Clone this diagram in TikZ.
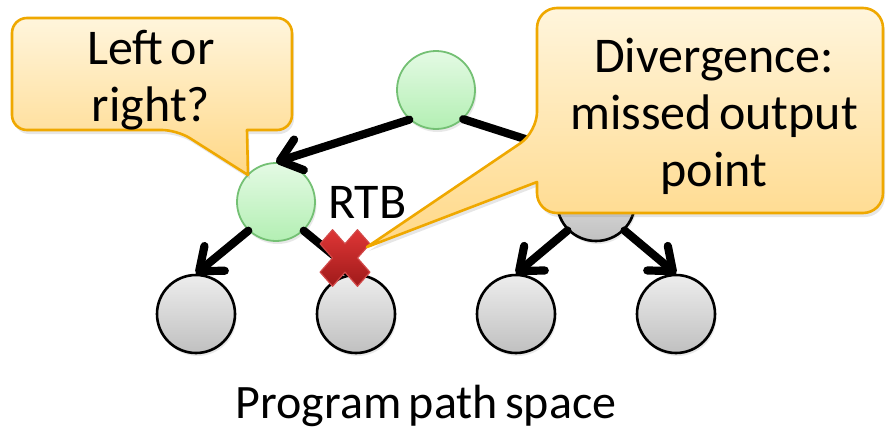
\documentclass[tikz,border=0pt]{standalone}
\usepackage{fontspec}
\setmainfont{Carlito}
\usetikzlibrary{arrows.meta,positioning,shadows}
\definecolor{ink}{HTML}{000000}
\definecolor{calloutedge}{HTML}{EFA800}
\definecolor{callouttop}{HTML}{FFF5DC}
\definecolor{calloutbot}{HTML}{FFD887}
\definecolor{takenedge}{HTML}{74C074}
\definecolor{takentop}{HTML}{E4FAE4}
\definecolor{takenbot}{HTML}{B3EFB3}
\definecolor{pathtop}{HTML}{EDEDED}
\definecolor{pathbot}{HTML}{C0C0C0}
\definecolor{marktop}{HTML}{DE3636}
\definecolor{markbot}{HTML}{A01A1A}
\definecolor{markedge}{HTML}{D24848}
\newcommand\slidefont[1]{\fontsize{#1}{57}\selectfont\spaceskip=0.15em\relax}

\tikzset{
  pathnode/.style={circle, minimum size=78pt, inner sep=0pt, line width=2.6pt,
    draw=black, top color=pathtop, bottom color=pathbot,
    drop shadow={shadow xshift=1.5pt, shadow yshift=-3pt, opacity=0.18}},
  takennode/.style={pathnode, draw=takenedge, line width=1.8pt,
    top color=takentop, bottom color=takenbot},
  branch/.style={line width=8.2pt, line cap=round,
    -{Straight Barb[length=20pt, width=32pt, round]}},
  balloon/.style={draw=calloutedge, line width=2.6pt, line join=round,
    top color=callouttop, bottom color=calloutbot,
    drop shadow={shadow xshift=2pt, shadow yshift=-4pt, opacity=0.2}},
  crossmark/.style={draw=markedge, line width=1.2pt, line join=round,
    top color=marktop, bottom color=markbot},
  lbl/.style={font=\slidefont{50}, align=center, text=ink, inner sep=0pt}
}

\begin{document}
\begin{tikzpicture}[x=1pt, y=-1pt]
  \useasboundingbox (0,0) rectangle (886,439);

  % program path tree
  \node[takennode] (root) at (436,90) {};
  \node[takennode] (lm) at (276,202) {};
  \node[pathnode] (rm) at (596,202) {};
  \node[pathnode] (b1) at (196,314) {};
  \node[pathnode] (b2) at (356,314) {};
  \node[pathnode] (b3) at (516,314) {};
  \node[pathnode] (b4) at (676,314) {};

  \draw[branch] (root.-132) -- (lm.north);
  \draw[branch] (root.-47) -- (rm.north);
  \draw[branch] (lm.-134) -- (b1.north);
  \draw[branch] (lm.-46) -- (b2.north);
  \draw[branch] (rm.-135) -- (b3.north);
  \draw[branch] (rm.-45) -- (b4.north);

  \node[lbl, right=12pt of lm] (rtb) {RTB};

  % missed branch
  \begin{scope}[shift={(345,258)}, xscale=0.88, rotate=45]
    \draw[crossmark] (-10,-30) -- (10,-30) -- (10,-10) -- (30,-10) -- (30,10) -- (10,10)
      -- (10,30) -- (-10,30) -- (-10,10) -- (-30,10) -- (-30,-10) -- (-10,-10) -- cycle;
  \end{scope}

  % callouts
  \draw[balloon, rounded corners=15pt] (150,18) -- (12,18) -- (12,130) -- (177,130)
    [sharp corners] -- (248,175) -- (247,130) [rounded corners=15pt] -- (292,130)
    -- (292,18) -- cycle;
  \node[lbl] (askq) at (151,80) {Left or\\right?};

  \draw[balloon, rounded corners=20pt] (710,8) -- (537,8) -- (537,132)
    [sharp corners] -- (367,247) -- (537,182) [rounded corners=20pt] -- (537,213)
    -- (883,213) -- (883,8) -- cycle;
  \node[lbl] (missq) at (714,116) {Divergence:\\missed output\\point};

  \node[lbl, font=\slidefont{48}, anchor=base] (caption) at (426,418) {Program path space};
\end{tikzpicture}
\end{document}
